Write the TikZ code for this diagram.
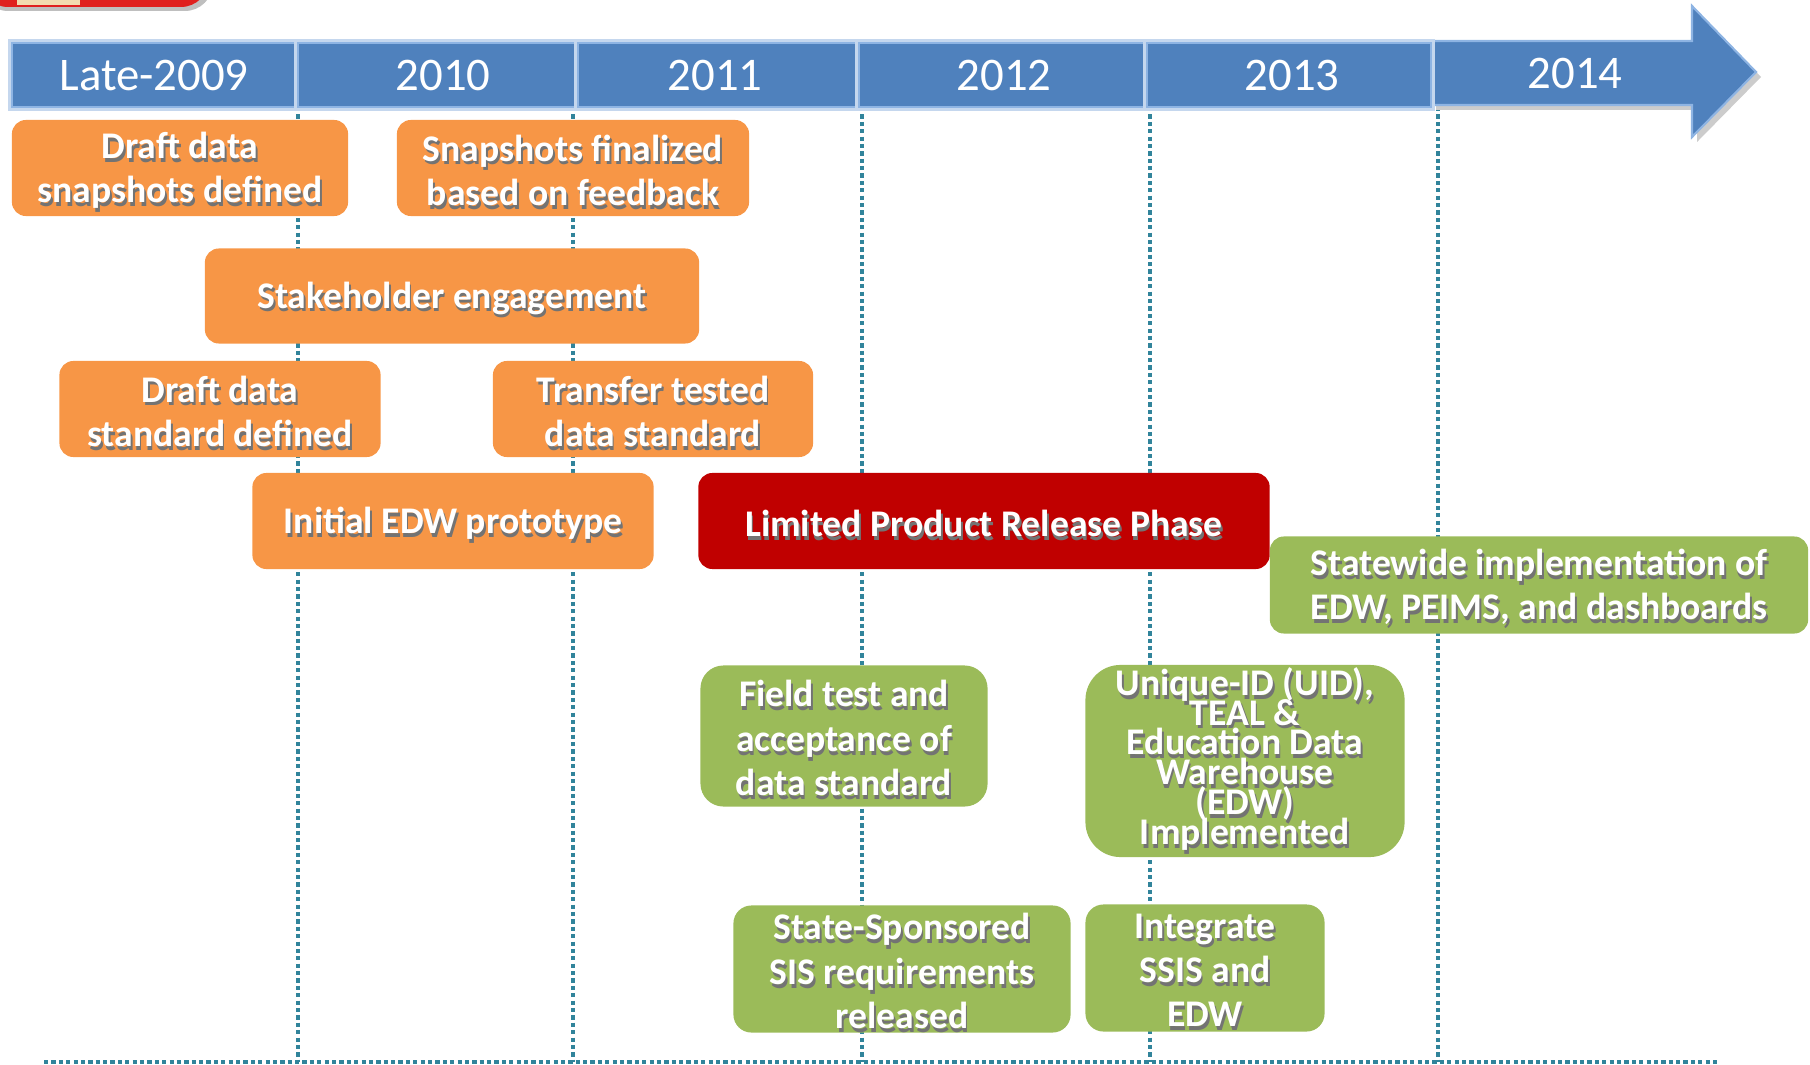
\documentclass[tikz,border=0pt]{standalone}
\usepackage{fontspec}
\setmainfont{Carlito}
\usepackage{tikz}

\definecolor{barblue}{HTML}{4F81BD}
\definecolor{barglow}{HTML}{C5D7EE}
\definecolor{barline}{HTML}{8EB4E3}
\definecolor{boxorange}{HTML}{F79646}
\definecolor{boxgreen}{HTML}{9BBB59}
\definecolor{boxred}{HTML}{C00000}
\definecolor{guideteal}{HTML}{31849B}
\definecolor{tabred}{HTML}{E0201E}
\definecolor{tabbeige}{HTML}{F2DCB0}

\protected\def\tightlead{\fontsize{10.7}{8.5}\selectfont\lineskiplimit=-20pt\lineskip=0pt\relax}

\tikzset{
  yearlbl/.style={text=white, inner sep=0pt, font=\fontsize{13.3}{16}\selectfont},
  tlbox/.style={rounded corners=0.14cm, inner sep=0pt},
  obox/.style={tlbox, fill=boxorange},
  gbox/.style={tlbox, fill=boxgreen},
  rbox/.style={tlbox, fill=boxred},
  boxtxt/.style={align=center, inner sep=0pt, yshift=-0.6pt, text=white, font=\bfseries\fontsize{10.7}{12.6}\selectfont},
  boxshd/.style={boxtxt, text=black!55, xshift=0.5pt, yshift=-1.1pt},
  tight/.style={font=\bfseries\tightlead, yshift=1.2pt},
  guide/.style={draw=guideteal, line width=1pt, dash pattern=on 1.2pt off 0.9pt},
}

% box, shadow text, white text
\newcommand{\stage}[7][]{%
  \node[#2, minimum width=#5, minimum height=#6] (#3) at (#4) {};
  \node[boxshd, #1] at (#3) {#7};
  \node[boxtxt, #1] at (#3) {#7};
}

\begin{document}
\begin{tikzpicture}[x=0.01cm, y=-0.01cm]
\useasboundingbox (0,0) rectangle (1810,1064);

% red tab, top left
\fill[black!25, rounded corners=8] (-20,-30) rectangle (213,11);
\fill[tabred, rounded corners=8] (-20,-30) rectangle (209,7);
\fill[tabbeige] (17,-5) rectangle (80,5);

% guide lines
\foreach \gx [count=\i] in {298,573,862,1150,1438}{
  \coordinate (gt\i) at (\gx,107);
  \coordinate (gb\i) at (\gx,1062);
  \draw[guide] (gt\i) -- (gb\i);
}
\coordinate (bl) at (44,1062);
\coordinate (br) at (1720,1062);
\draw[guide] (bl) -- (br);

% timeline
\fill[black!20] (1436,46) -- (1697,46) -- (1697,11) -- (1761,77) -- (1697,142) -- (1697,110) -- (1436,110) -- cycle;
\filldraw[fill=barblue, draw=barline, line width=0.6pt] (1431,41) -- (1692,41) -- (1692,6) -- (1756,72) -- (1692,137) -- (1692,105) -- (1431,105) -- cycle;
\foreach \xa/\xb/\xl/\yr [count=\i] in {12/298/154/Late-2009, 298/578/443/2010, 578/859/715/2011, 859/1147/1004/2012, 1147/1431/1292/2013}{
  \draw[barglow, line width=2.5pt] (\xa,43) rectangle (\xb,107);
  \filldraw[fill=barblue, draw=barline, line width=0.6pt] (\xa,43) rectangle (\xb,107);
  \node[yearlbl] (yr\i) at (\xl,75) {\yr};
}
\node[yearlbl] (yr6) at (1575,73) {2014};

% stages
\stage{obox}{draftsnap}{180,168}{3.36cm}{0.96cm}{Draft data\\snapshots defined}
\stage{obox}{snapfinal}{573,168}{3.52cm}{0.96cm}{Snapshots finalized\\based on feedback}
\stage{obox}{stake}{452,296}{4.94cm}{0.95cm}{Stakeholder engagement}
\stage{obox}{draftstd}{220,409}{3.21cm}{0.96cm}{Draft data\\standard defined}
\stage{obox}{transfer}{653,409}{3.20cm}{0.96cm}{Transfer tested\\data standard}
\stage{obox}{edwproto}{453,521}{4.01cm}{0.96cm}{Initial EDW prototype}
\stage{rbox}{lprp}{984,521}{5.71cm}{0.96cm}{Limited Product Release Phase}
\stage{gbox}{statewide}{1539,585}{5.38cm}{0.97cm}{Statewide implementation of\\EDW, PEIMS, and dashboards}
\stage{gbox, rounded corners=0.23cm}{fieldtest}{844,736}{2.87cm}{1.41cm}{Field test and\\acceptance of\\data standard}
\stage[tight]{gbox, rounded corners=0.35cm}{uid}{1245,761}{3.19cm}{1.92cm}{Unique-ID (UID),\\TEAL \&\\Education Data\\Warehouse\\(EDW)\\Implemented}
\stage{gbox, rounded corners=0.18cm}{sisreq}{902,969}{3.37cm}{1.27cm}{State-Sponsored\\SIS requirements\\released}
\stage{gbox, rounded corners=0.18cm}{integrate}{1205,968}{2.39cm}{1.27cm}{Integrate\\SSIS and\\EDW}
\end{tikzpicture}
\end{document}
